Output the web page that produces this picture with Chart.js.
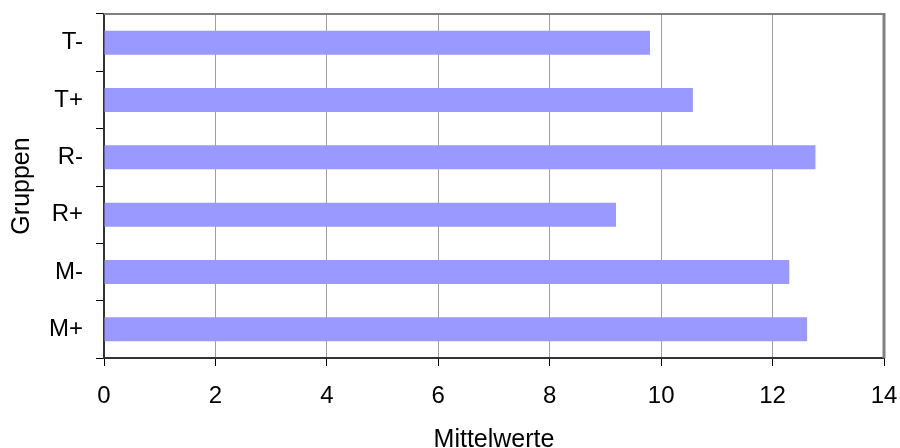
<!DOCTYPE html>
<html>
<head>
<meta charset="utf-8">
<script src="https://cdn.jsdelivr.net/npm/chart.js@4/dist/chart.umd.min.js"></script>
<style>
  html, body { margin: 0; padding: 0; background: #fff; }
  #wrap { width: 900px; height: 448px; }
</style>
</head>
<body>
<div id="wrap"><canvas id="c" width="900" height="448"></canvas></div>
<script>
// Gruppen, top to bottom
const groups = ['T-', 'T+', 'R-', 'R+', 'M-', 'M+'];
// Mittelwerte per Gruppe
const means = [9.80, 10.57, 12.77, 9.19, 12.30, 12.62];
// value axis range
const xMin = 0;
const xMax = 14;
const xStep = 2;

const FONT = "'Liberation Sans', Arial, sans-serif";

// closes the plot frame on the top and right edges
const frame = {
  id: 'frame',
  afterDraw(chart) {
    const { ctx, chartArea: a } = chart;
    ctx.save();
    ctx.strokeStyle = '#808080';
    ctx.lineWidth = 2;
    ctx.beginPath();
    ctx.moveTo(a.left, a.top);
    ctx.lineTo(a.right, a.top);
    ctx.stroke();
    ctx.lineWidth = 3;
    ctx.beginPath();
    ctx.moveTo(a.right, a.top - 1);
    ctx.lineTo(a.right, a.bottom);
    ctx.stroke();
    ctx.restore();
  }
};

new Chart(document.getElementById('c'), {
  type: 'bar',
  data: {
    labels: groups,
    datasets: [{
      data: means,
      backgroundColor: '#9999FF',
      borderWidth: 0,
      barPercentage: 0.42,
      categoryPercentage: 1.0
    }]
  },
  options: {
    indexAxis: 'y',
    responsive: false,
    animation: false,
    layout: { padding: { top: 14, right: 16, left: 0, bottom: 0 } },
    plugins: { legend: { display: false }, tooltip: { enabled: false } },
    scales: {
      x: {
        min: xMin,
        max: xMax,
        ticks: {
          stepSize: xStep,
          color: '#000',
          font: { family: FONT, size: 24 },
          padding: 16,
          maxRotation: 0
        },
        grid: {
          color: '#a0a0a0',
          lineWidth: 1,
          tickColor: '#000',
          tickLength: 8,
          drawTicks: true
        },
        border: { color: '#333', width: 2 },
        title: {
          display: true,
          text: 'Mittelwerte',
          color: '#000',
          font: { family: FONT, size: 25 },
          padding: { top: 0, bottom: -7 }
        },
        afterFit(scale) {
          scale.height = 90;
          scale.paddingLeft = 0;
          scale.paddingRight = 0;
        }
      },
      y: {
        offset: true,
        ticks: {
          color: '#000',
          font: { family: FONT, size: 24 },
          padding: 13
        },
        grid: {
          offset: true,
          drawOnChartArea: false,
          tickColor: '#000',
          tickLength: 8
        },
        border: { color: '#333', width: 2 },
        title: {
          display: true,
          text: 'Gruppen',
          color: '#000',
          font: { family: FONT, size: 25 },
          padding: { top: 7, bottom: 0 }
        },
        afterFit(scale) {
          scale.width = 104;
          scale.paddingTop = 0;
          scale.paddingBottom = 0;
        }
      }
    }
  },
  plugins: [frame]
});
</script>
</body>
</html>
